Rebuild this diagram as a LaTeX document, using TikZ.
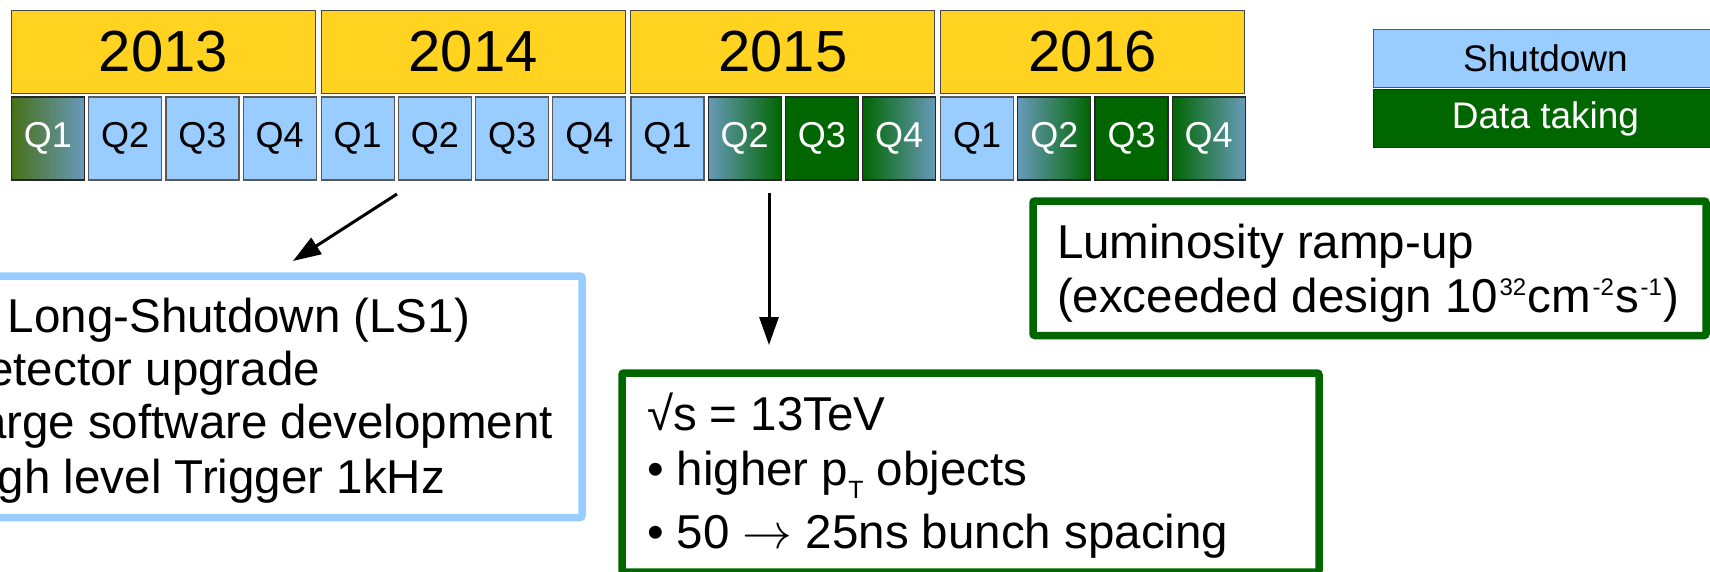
\documentclass[tikz,border=0pt]{standalone}
\usepackage{fontspec}
\usepackage{graphicx}
\setmainfont{Liberation Sans}
\usetikzlibrary{arrows.meta}
\definecolor{yearyellow}{RGB}{255,211,32}
\definecolor{shutblue}{RGB}{153,204,255}
\definecolor{datagreen}{RGB}{0,102,0}
\definecolor{steelgray}{RGB}{104,154,185}
\definecolor{qolive}{RGB}{72,112,24}
\newcommand\mysup[1]{\kern1.5pt\raisebox{0.34em}{\fontsize{24}{24}\selectfont #1}\kern1.5pt}
\newcommand\mysub[1]{\raisebox{-0.28em}{\fontsize{25}{25}\selectfont #1}}
\newcommand\myarrow{\scalebox{2.0}{$\rightarrow$}}
\tikzset{
  yearbox/.style={draw=gray!55!black, line width=1pt, fill=yearyellow, minimum width=304pt, minimum height=83pt, inner sep=0pt, outer sep=0pt, anchor=north west, font=\fontsize{58}{58}\selectfont},
  qbox/.style={line width=1.2pt, minimum width=73pt, minimum height=83pt, inner sep=0pt, outer sep=0pt, anchor=north west, font=\fontsize{36}{36}\selectfont},
  qshut/.style={qbox, draw=gray!70!black, fill=shutblue, text=black},
  qdata/.style={qbox, draw=black!85, fill=datagreen, text=white},
  qup/.style={qbox, draw=black!85, left color=steelgray, right color=datagreen, text=white},
  qdown/.style={qbox, draw=black!85, left color=datagreen, right color=steelgray, text=white},
  qfirst/.style={qbox, draw=black!85, left color=qolive, right color=steelgray, text=white},
  legbox/.style={line width=1pt, minimum width=344pt, minimum height=58pt, inner sep=0pt, outer sep=0pt, anchor=north west, font=\fontsize{37}{37}\selectfont},
  infobox/.style={line width=7.5pt, rounded corners=2pt, inner sep=0pt, outer sep=0pt},
  txt/.style={inner sep=0pt, outer sep=0pt, font=\fontsize{47.5}{47.5}\selectfont},
  conn/.style={line width=3pt, -{Triangle[length=28pt,width=19pt]}}
}
\begin{document}
\begin{tikzpicture}[x=1pt,y=-1pt]
\useasboundingbox (0,0) rectangle (1710,571);
\fill[white] (0,0) rectangle (1710,571);
\clip (0,0) rectangle (1710,571);
% years
\node[yearbox] (y2013) at (11.5,10.5) {2013};
\node[yearbox] (y2014) at (321.2,10.5) {2014};
\node[yearbox] (y2015) at (630.9,10.5) {2015};
\node[yearbox] (y2016) at (940.6,10.5) {2016};
% quarters 2013
\node[qfirst] (q13a) at (11.5,97) {Q1};
\node[qshut]  (q13b) at (88.7,97) {Q2};
\node[qshut]  (q13c) at (165.9,97) {Q3};
\node[qshut]  (q13d) at (243.1,97) {Q4};
% 2014
\node[qshut]  (q14a) at (321.2,97) {Q1};
\node[qshut]  (q14b) at (398.4,97) {Q2};
\node[qshut]  (q14c) at (475.6,97) {Q3};
\node[qshut]  (q14d) at (552.8,97) {Q4};
% 2015
\node[qshut]  (q15a) at (630.9,97) {Q1};
\node[qup]    (q15b) at (708.1,97) {Q2};
\node[qdata]  (q15c) at (785.3,97) {Q3};
\node[qdown]  (q15d) at (862.5,97) {Q4};
% 2016
\node[qshut]  (q16a) at (940.6,97) {Q1};
\node[qup]    (q16b) at (1017.8,97) {Q2};
\node[qdata]  (q16c) at (1095.0,97) {Q3};
\node[qdown]  (q16d) at (1172.2,97) {Q4};
% legend
\node[legbox, draw=gray!70!black, fill=shutblue, text=black] (legs) at (1373.5,29.5) {Shutdown};
\node[legbox, draw=black!85, fill=datagreen, text=white] (legd) at (1373.5,89.5) {Data taking};
% info boxes
\node[infobox, draw=shutblue, minimum width=612pt, minimum height=241.5pt] (ls1) at (276,396.75) {};
\node[infobox, draw=datagreen, minimum width=697pt, minimum height=199pt] (run2) at (970.5,472.5) {};
\node[infobox, draw=datagreen, minimum width=673pt, minimum height=134.5pt] (lumi) at (1369.5,268.25) {};
% LS1 text
\node[txt, anchor=base east] (ls1a) at (470,332) {Long-Shutdown (LS1)};
\node[txt, anchor=base east] (ls1b) at (320,385) {Detector upgrade};
\node[txt, anchor=base east] (ls1c) at (553,438) {Large software development};
\node[txt, anchor=base east] (ls1d) at (445,493) {High level Trigger 1kHz};
% run2 text
\node[txt, anchor=base west] (r2a) at (647,430) {√s = 13TeV};
\node[txt, anchor=base west] (r2b) at (647,485) {• higher p\mysub{T} objects};
\node[txt, anchor=base west] (r2c) at (647,548) {• 50 \myarrow{} 25ns bunch spacing};
% lumi text
\node[txt, anchor=base west] (lua) at (1057,258) {Luminosity ramp-up};
\node[txt, anchor=base west] (lub) at (1057,312) {(exceeded design 10\mysup{32}cm\mysup{-2}s\mysup{-1})};
% arrows
\coordinate (a1s) at (397,194);
\coordinate (a1e) at (293,261);
\coordinate (a2s) at (769,193);
\coordinate (a2e) at (769,345);
\draw[conn] (a1s) -- (a1e);
\draw[conn] (a2s) -- (a2e);
\end{tikzpicture}
\end{document}
